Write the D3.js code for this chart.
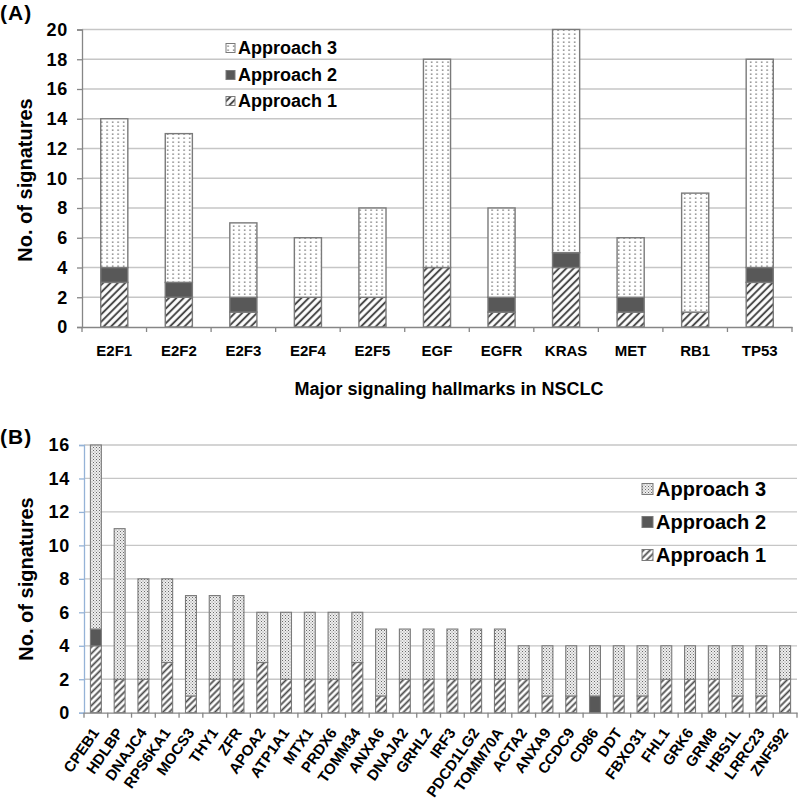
<!DOCTYPE html>
<html>
<head>
<meta charset="utf-8">
<script src="https://cdn.jsdelivr.net/npm/d3@7"></script>
<style>
  body { margin: 0; background: #fff; }
  svg text { font-family: "Liberation Sans", Arial, sans-serif; font-weight: bold; fill: #000; }
</style>
</head>
<body>
<svg id="chart" width="800" height="808"></svg>
<script>
// ---------- Panel A data ----------
const catsA = ["E2F1","E2F2","E2F3","E2F4","E2F5","EGF","EGFR","KRAS","MET","RB1","TP53"];
const a1A = [3,2,1,2,2,4,1,4,1,1,3];
const a2A = [1,1,1,0,0,0,1,1,1,0,1];
const a3A = [10,10,5,4,6,14,6,15,4,8,14];
const ticksA = [0,2,4,6,8,10,12,14,16,18,20];

// ---------- Panel B data ----------
const catsB = ["CPEB1","HDLBP","DNAJC4","RPS6KA1","MOCS3","THY1","ZFR","APOA2","ATP1A1","MTX1",
  "PRDX6","TOMM34","ANXA6","DNAJA2","GRHL2","IRF3","PDCD1LG2","TOMM70A","ACTA2","ANXA9",
  "CCDC9","CD86","DDT","FBXO31","FHL1","GRK6","GRM8","HBS1L","LRRC23","ZNF592"];
const a1B = [4,2,2,3,1,2,2,3,2,2,2,3,1,2,2,2,2,2,2,1,1,0,1,1,2,2,2,1,1,2];
const a2B = [1,0,0,0,0,0,0,0,0,0,0,0,0,0,0,0,0,0,0,0,0,1,0,0,0,0,0,0,0,0];
const a3B = [11,9,6,5,6,5,5,3,4,4,4,3,4,3,3,3,3,3,2,3,3,3,3,3,2,2,2,3,3,2];
const ticksB = [0,2,4,6,8,10,12,14,16];

const seriesNames = ["Approach 1","Approach 2","Approach 3"];
const legendOrder = ["Approach 3","Approach 2","Approach 1"];

const svg = d3.select("#chart");
const defs = svg.append("defs");

// patterns
function hatch(id, spacing, width) {
  const p = defs.append("pattern").attr("id", id).attr("patternUnits","userSpaceOnUse")
    .attr("width", spacing).attr("height", spacing).attr("patternTransform","rotate(45)");
  p.append("rect").attr("width", spacing).attr("height", spacing).attr("fill","#fff");
  p.append("line").attr("x1", spacing/2).attr("x2", spacing/2).attr("y1",0).attr("y2",spacing)
    .attr("stroke","#4a4a4a").attr("stroke-width", width);
}
hatch("hatchA", 5.2, 2.0);
hatch("hatchB", 4.6, 1.8);

const dA = defs.append("pattern").attr("id","dotsA").attr("patternUnits","userSpaceOnUse")
  .attr("width",5.5).attr("height",4);
dA.append("rect").attr("width",5.5).attr("height",4).attr("fill","#fff");
dA.append("rect").attr("x",2).attr("y",1.5).attr("width",1.3).attr("height",1.3).attr("fill","#5e5e5e");

const dB = defs.append("pattern").attr("id","dotsB").attr("patternUnits","userSpaceOnUse")
  .attr("width",3).attr("height",3);
dB.append("rect").attr("width",3).attr("height",3).attr("fill","#eeeeee");
dB.append("rect").attr("x",0).attr("y",0).attr("width",1).attr("height",1).attr("fill","#6a6a6a");
dB.append("rect").attr("x",1.5).attr("y",1.5).attr("width",1).attr("height",1).attr("fill","#8a8a8a");

function panel(cfg) {
  const x = d3.scaleBand().domain(cfg.cats).range(cfg.xr).paddingInner(0).paddingOuter(0);
  const y = d3.scaleLinear().domain([0, cfg.ymax]).range(cfg.yr);
  const g = svg.append("g");

  // gridlines
  g.append("g").selectAll("line").data(cfg.ticks.filter(t => t > 0)).join("line")
    .attr("x1", cfg.xr[0]).attr("x2", cfg.xr[1])
    .attr("y1", d => y(d)).attr("y2", d => y(d))
    .attr("stroke", "#c6c6c6").attr("stroke-width", 1.3);

  // stacked data
  const rows = cfg.cats.map((c, i) => ({cat: c, "Approach 1": cfg.s1[i], "Approach 2": cfg.s2[i], "Approach 3": cfg.s3[i]}));
  const stack = d3.stack().keys(seriesNames)(rows);
  const fills = {"Approach 1": cfg.hatch, "Approach 2": "#585858", "Approach 3": cfg.dots};
  const bw = x.bandwidth() * cfg.barFrac;
  stack.forEach(layer => {
    g.append("g").selectAll("rect").data(layer.filter(d => d[1] - d[0] > 0)).join("rect")
      .attr("x", d => x(d.data.cat) + (x.bandwidth() - bw) / 2)
      .attr("width", bw)
      .attr("y", d => y(d[1]))
      .attr("height", d => y(d[0]) - y(d[1]))
      .attr("fill", fills[layer.key])
      .attr("stroke", "#7a7a7a").attr("stroke-width", cfg.barStroke);
  });

  // y axis
  const ya = d3.axisLeft(y).tickValues(cfg.ticks).tickSize(5).tickPadding(9);
  const yg = g.append("g").attr("transform", `translate(${cfg.xr[0]},0)`).call(ya);
  yg.select(".domain").attr("stroke", cfg.yAxisColor).attr("stroke-width", 1.3);
  yg.selectAll(".tick line").attr("stroke", cfg.yAxisColor).attr("stroke-width", 1.3);
  yg.selectAll(".tick text").style("font-size", cfg.yTickFont + "px").attr("fill","#000")
    .style("letter-spacing", "0.8px")
    .style("font-family", "'Liberation Sans', Arial, sans-serif").style("font-weight","bold");

  // x axis (labels at band centers, ticks at band boundaries)
  const xa = d3.axisBottom(x).tickSize(0).tickPadding(cfg.xPad);
  const xg = g.append("g").attr("transform", `translate(0,${cfg.yr[0]})`).call(xa);
  xg.select(".domain").attr("stroke", "#868686").attr("stroke-width", 1.3);
  xg.selectAll(".tick text").style("font-size", cfg.xTickFont + "px")
    .style("font-family", "'Liberation Sans', Arial, sans-serif").style("font-weight","bold").attr("fill","#000");
  if (cfg.rotate) {
    xg.selectAll(".tick text")
      .attr("text-anchor", "end").attr("dy", 0).attr("y", 0)
      .attr("transform", `translate(4,${cfg.xPad}) rotate(-55)`);
  }
  const bounds = cfg.cats.map(c => x(c)).concat([x(cfg.cats[cfg.cats.length - 1]) + x.bandwidth()]);
  g.append("g").selectAll("line").data(bounds).join("line")
    .attr("x1", d => d).attr("x2", d => d)
    .attr("y1", cfg.yr[0]).attr("y2", cfg.yr[0] + 5)
    .attr("stroke", "#868686").attr("stroke-width", 1.3);

  // y title
  g.append("text").attr("transform", `translate(${cfg.yTitleX},${cfg.yTitleY}) rotate(-90)`)
    .attr("text-anchor", "middle").style("font-size", "20px").text("No. of signatures");

  // legend
  legendOrder.forEach((name, i) => {
    const cy = cfg.legY[i];
    g.append("rect").attr("x", cfg.legX).attr("y", cy - cfg.legSq / 2)
      .attr("width", cfg.legSq).attr("height", cfg.legSq)
      .attr("fill", fills[name]).attr("stroke", "#7a7a7a").attr("stroke-width", 1);
    g.append("text").attr("x", cfg.legX + cfg.legSq + 3).attr("y", cy + cfg.legFont * 0.36)
      .style("font-size", cfg.legFont + "px").text(name);
  });

  // panel label
  g.append("text").attr("x", 0).attr("y", cfg.labelY).style("font-size", "21px")
    .style("letter-spacing", "1px").text(cfg.label);
  return g;
}

panel({
  cats: catsA, s1: a1A, s2: a2A, s3: a3A, ticks: ticksA, ymax: 20,
  xr: [82, 792], yr: [327, 29.5], barFrac: 0.42, barStroke: 1.4,
  hatch: "url(#hatchA)", dots: "url(#dotsA)", yAxisColor: "#868686",
  yTickFont: 18, xTickFont: 15, xPad: 18, rotate: false,
  yTitleX: 32, yTitleY: 180,
  legX: 226, legY: [48, 75, 101], legSq: 9, legFont: 18,
  label: "(A)", labelY: 20
});

svg.append("text").attr("x", 449).attr("y", 395).attr("text-anchor", "middle")
  .style("font-size", "18px").text("Major signaling hallmarks in NSCLC");

panel({
  cats: catsB, s1: a1B, s2: a2B, s3: a3B, ticks: ticksB, ymax: 16,
  xr: [84, 797], yr: [712.7, 445], barFrac: 0.46, barStroke: 1.1,
  hatch: "url(#hatchB)", dots: "url(#dotsB)", yAxisColor: "#95b3d7",
  yTickFont: 18, xTickFont: 15, xPad: 20, rotate: true,
  yTitleX: 33, yTitleY: 579,
  legX: 642, legY: [489, 522, 555], legSq: 11, legFont: 20,
  label: "(B)", labelY: 444
});
</script>
</body>
</html>
